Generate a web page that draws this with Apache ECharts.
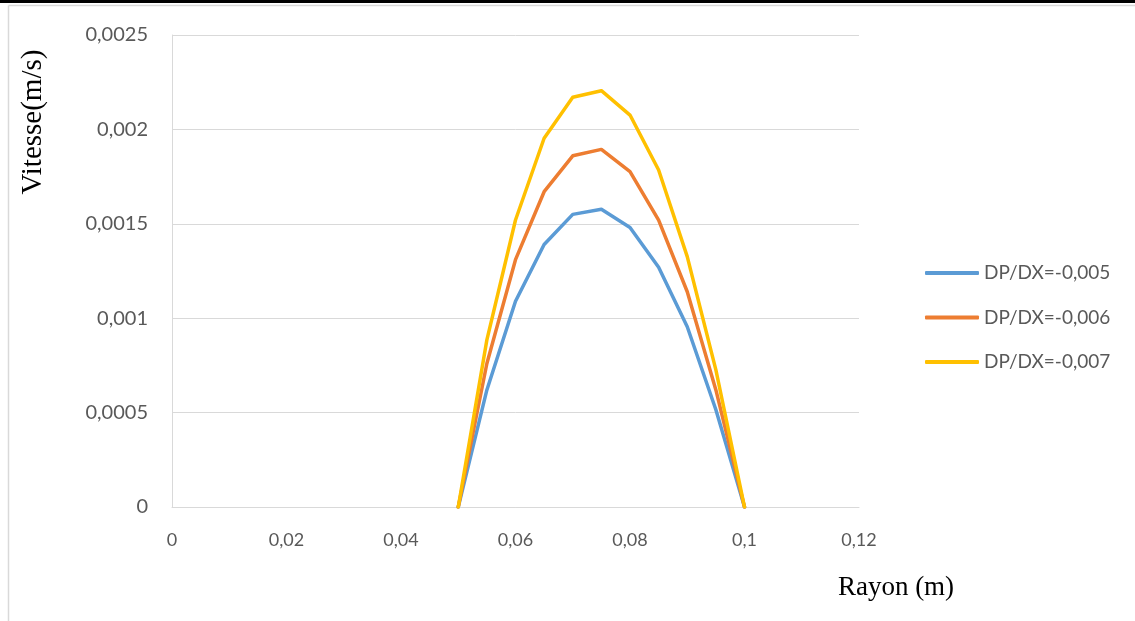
<!DOCTYPE html>
<html>
<head>
<meta charset="utf-8">
<script src="https://cdn.jsdelivr.net/npm/echarts@6/dist/echarts.min.js"></script>
<style>
html,body{margin:0;padding:0;background:#fff;}
#chart{width:1135px;height:621px;}
</style>
</head>
<body>
<div id="chart"></div>
<script>
var rayon = [0.05, 0.055, 0.06, 0.065, 0.07, 0.075, 0.08, 0.085, 0.09, 0.095, 0.1];
var seriesNames = ['DP/DX=-0,005', 'DP/DX=-0,006', 'DP/DX=-0,007'];
var v005 = [0, 0.00062, 0.00109, 0.00139, 0.00155, 0.001577, 0.00148, 0.00127, 0.000955, 0.000515, 0];
var v006 = [0, 0.00076, 0.00131, 0.00167, 0.00186, 0.001894, 0.001776, 0.00152, 0.00114, 0.00062, 0];
var v007 = [0, 0.000885, 0.00152, 0.001953, 0.00217, 0.002205, 0.002076, 0.001785, 0.001326, 0.000726, 0];
var colors = ['#5b9bd5', '#ed7d31', '#ffc000'];
var xTicks = [0, 0.02, 0.04, 0.06, 0.08, 0.1, 0.12];
var yTicks = [0, 0.0005, 0.001, 0.0015, 0.002, 0.0025];

function fmt(v) { return String(parseFloat(v.toPrecision(6))).replace('.', ','); }
function pairs(vals) { return rayon.map(function (x, i) { return [x, vals[i]]; }); }

var chart = echarts.init(document.getElementById('chart'));
var tickFont = { fontFamily: 'Lato, "Open Sans", sans-serif', fontSize: 19, color: '#595959' };
chart.setOption({
  animation: false,
  backgroundColor: '#fff',
  color: colors,
  grid: { left: 172, right: 276, top: 35, bottom: 114, containLabel: false },
  xAxis: {
    type: 'value', min: 0, max: 0.12, interval: 0.02,
    axisLine: { show: true, lineStyle: { color: '#d9d9d9', width: 1 } },
    axisTick: { show: false },
    splitLine: { show: false },
    axisLabel: Object.assign({}, tickFont, { fontSize: 18, margin: 24, formatter: function (v) { return fmt(v); } })
  },
  yAxis: {
    type: 'value', min: 0, max: 0.0025, interval: 0.0005,
    axisLine: { show: true, lineStyle: { color: '#d9d9d9', width: 1 } },
    axisTick: { show: false },
    splitLine: { show: true, lineStyle: { color: '#d9d9d9', width: 1 } },
    axisLabel: Object.assign({}, tickFont, { fontSize: 20, margin: 24, formatter: function (v) { return fmt(v); } })
  },
  legend: {
    orient: 'vertical', left: 920, top: 258, itemGap: 24.5,
    itemWidth: 54, itemHeight: 4,
    icon: 'roundRect',
    textStyle: Object.assign({ lineHeight: 20 }, tickFont),
    data: seriesNames.map(function (n, i) { return { name: n, itemStyle: { color: colors[i] } }; })
  },
  series: [v005, v006, v007].map(function (vals, i) {
    return {
      name: seriesNames[i], type: 'line', data: pairs(vals),
      showSymbol: false, symbol: 'none',
      lineStyle: { width: 3.5, color: colors[i], cap: 'round', join: 'round' },
      itemStyle: { color: colors[i] }
    };
  }),
  graphic: [
    { type: 'rect', shape: { x: 0, y: 0, width: 1135, height: 3 }, style: { fill: '#000' }, silent: true },
    { type: 'line', shape: { x1: 8.5, y1: 5.5, x2: 1135, y2: 5.5 }, style: { stroke: '#d9d9d9', lineWidth: 1.5 }, silent: true },
    { type: 'line', shape: { x1: 8.5, y1: 5.5, x2: 8.5, y2: 621 }, style: { stroke: '#d9d9d9', lineWidth: 1.5 }, silent: true },
    { type: 'text', x: 33, y: 122, rotation: Math.PI / 2,
      style: { text: 'Vitesse(m/s)', fontFamily: '"Liberation Serif", "Times New Roman", serif', fontSize: 29, fill: '#000', textAlign: 'center', textVerticalAlign: 'middle' } },
    { type: 'text', x: 896, y: 588,
      style: { text: 'Rayon (m)', fontFamily: '"Liberation Serif", "Times New Roman", serif', fontSize: 27, fill: '#000', textAlign: 'center', textVerticalAlign: 'middle' } }
  ]
});
</script>
</body>
</html>
